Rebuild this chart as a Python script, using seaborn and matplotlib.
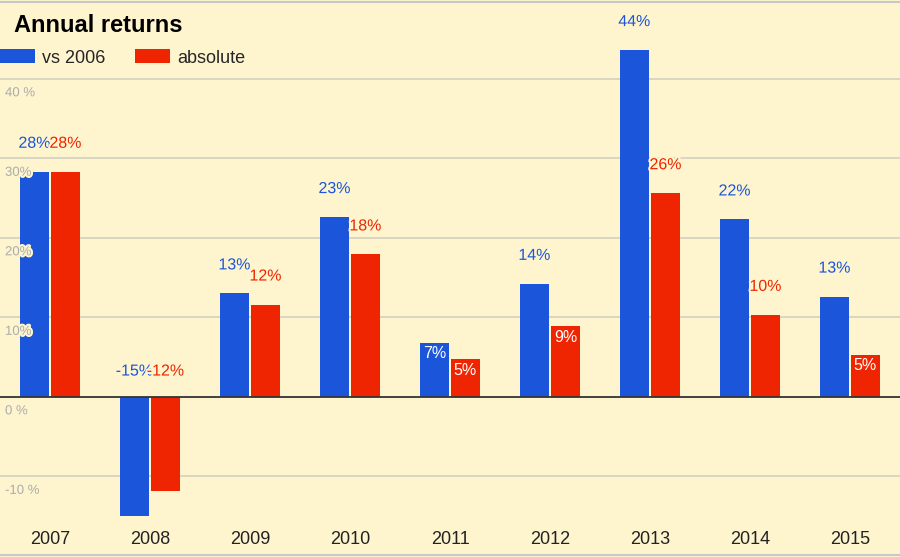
import matplotlib
matplotlib.use("Agg")
import matplotlib.pyplot as plt
import matplotlib.patheffects as pe
import matplotlib.transforms as mtransforms
from matplotlib.lines import Line2D
import seaborn as sns
import pandas as pd

years = ["2007", "2008", "2009", "2010", "2011", "2012", "2013", "2014", "2015"]
vs_2006 = [28.3, -15.0, 13.0, 22.6, 6.8, 14.2, 43.6, 22.3, 12.6]
absolute = [28.3, -11.8, 11.6, 17.9, 4.7, 8.9, 25.6, 10.3, 5.3]
series_names = ["vs 2006", "absolute"]
yticks = [-10, 0, 10, 20, 30, 40]
ytick_labels = ["-10 %", "0 %", "10%", "20%", "30%", "40 %"]

BG = "#FEF5CE"
BLUE = "#1B55D9"
RED = "#EE2500"

df = pd.DataFrame({
    "year": years * 2,
    "series": [series_names[0]] * len(years) + [series_names[1]] * len(years),
    "value": vs_2006 + absolute,
})

sns.set_theme(style="white")
plt.rcParams["font.family"] = ["Liberation Sans", "DejaVu Sans"]

fig = plt.figure(figsize=(9, 5.57), dpi=100)
fig.patch.set_facecolor(BG)
ax = fig.add_axes([0, (557 - 520) / 557, 1, 520 / 557])
ax.set_facecolor(BG)

sns.barplot(data=df, x="year", y="value", hue="series", palette=[BLUE, RED],
            width=0.62, gap=0.04, saturation=1, ax=ax, errorbar=None,
            linewidth=0)

ax.set_xlim(-0.5, len(years) - 0.5)
ax.set_ylim(-15.5, 49.9)
for s in ax.spines.values():
    s.set_visible(False)

# gridlines
for t in yticks:
    if t == 0:
        continue
    ax.axhline(t, color="#D5D0C0", lw=1.2, zorder=0)
ax.axhline(0, color="#333333", lw=1.3, zorder=3)

ax.set_yticks([])
ax.set_ylabel("")
ax.set_xlabel("")
trans = mtransforms.blended_transform_factory(ax.transAxes, ax.transData)
halo = [pe.withStroke(linewidth=3, foreground=BG)]
for t, lab in zip(yticks, ytick_labels):
    ax.annotate(lab, xy=(5 / 900, t), xycoords=trans, xytext=(0, -10.5),
                textcoords="offset points", ha="left", va="center",
                fontsize=9.5, color="#ABABAB", zorder=5, path_effects=halo)

ax.tick_params(axis="x", length=0, pad=8, labelsize=13, labelcolor="#222222")

# value labels
handles, labels = ax.get_legend_handles_labels()
colors = [BLUE, RED]
for cont, col in zip(ax.containers, colors):
    for patch in cont.patches:
        h = patch.get_height()
        xc = patch.get_x() + patch.get_width() / 2
        txt = f"{round(h)}%"
        if h < 0:
            ax.annotate(txt, xy=(xc, 0), xytext=(0, 18.5), textcoords="offset points",
                        ha="center", va="center", fontsize=11.5, color=col,
                        path_effects=halo, zorder=6)
        elif h < 10:
            ax.annotate(txt, xy=(xc, h), xytext=(0, -8), textcoords="offset points",
                        ha="center", va="center", fontsize=11.5, color="white", zorder=6)
        else:
            ax.annotate(txt, xy=(xc, h), xytext=(0, 20.5), textcoords="offset points",
                        ha="center", va="center", fontsize=11.5, color=col,
                        path_effects=halo, zorder=6)

if ax.get_legend() is not None:
    ax.get_legend().remove()
fig.legend(handles, labels, loc="center left", bbox_to_anchor=(0, 1 - 58 / 557),
           ncol=2, frameon=False, fontsize=13, handlelength=1.94, handleheight=0.83,
           handletextpad=0.39, columnspacing=1.66, borderpad=0, borderaxespad=0)

fig.text(14 / 900, 1 - 26 / 557, "Annual returns", ha="left", va="center",
         fontsize=17, fontweight="bold", color="#000000")

fig.add_artist(Line2D([0, 1], [1 - 1.5 / 557, 1 - 1.5 / 557], transform=fig.transFigure,
                      color="#C8C8C8", lw=1.5))
fig.add_artist(Line2D([0, 1], [2 / 557, 2 / 557], transform=fig.transFigure,
                      color="#C8C8C8", lw=1.5))

fig.savefig("out.png", dpi=100, facecolor=BG)
